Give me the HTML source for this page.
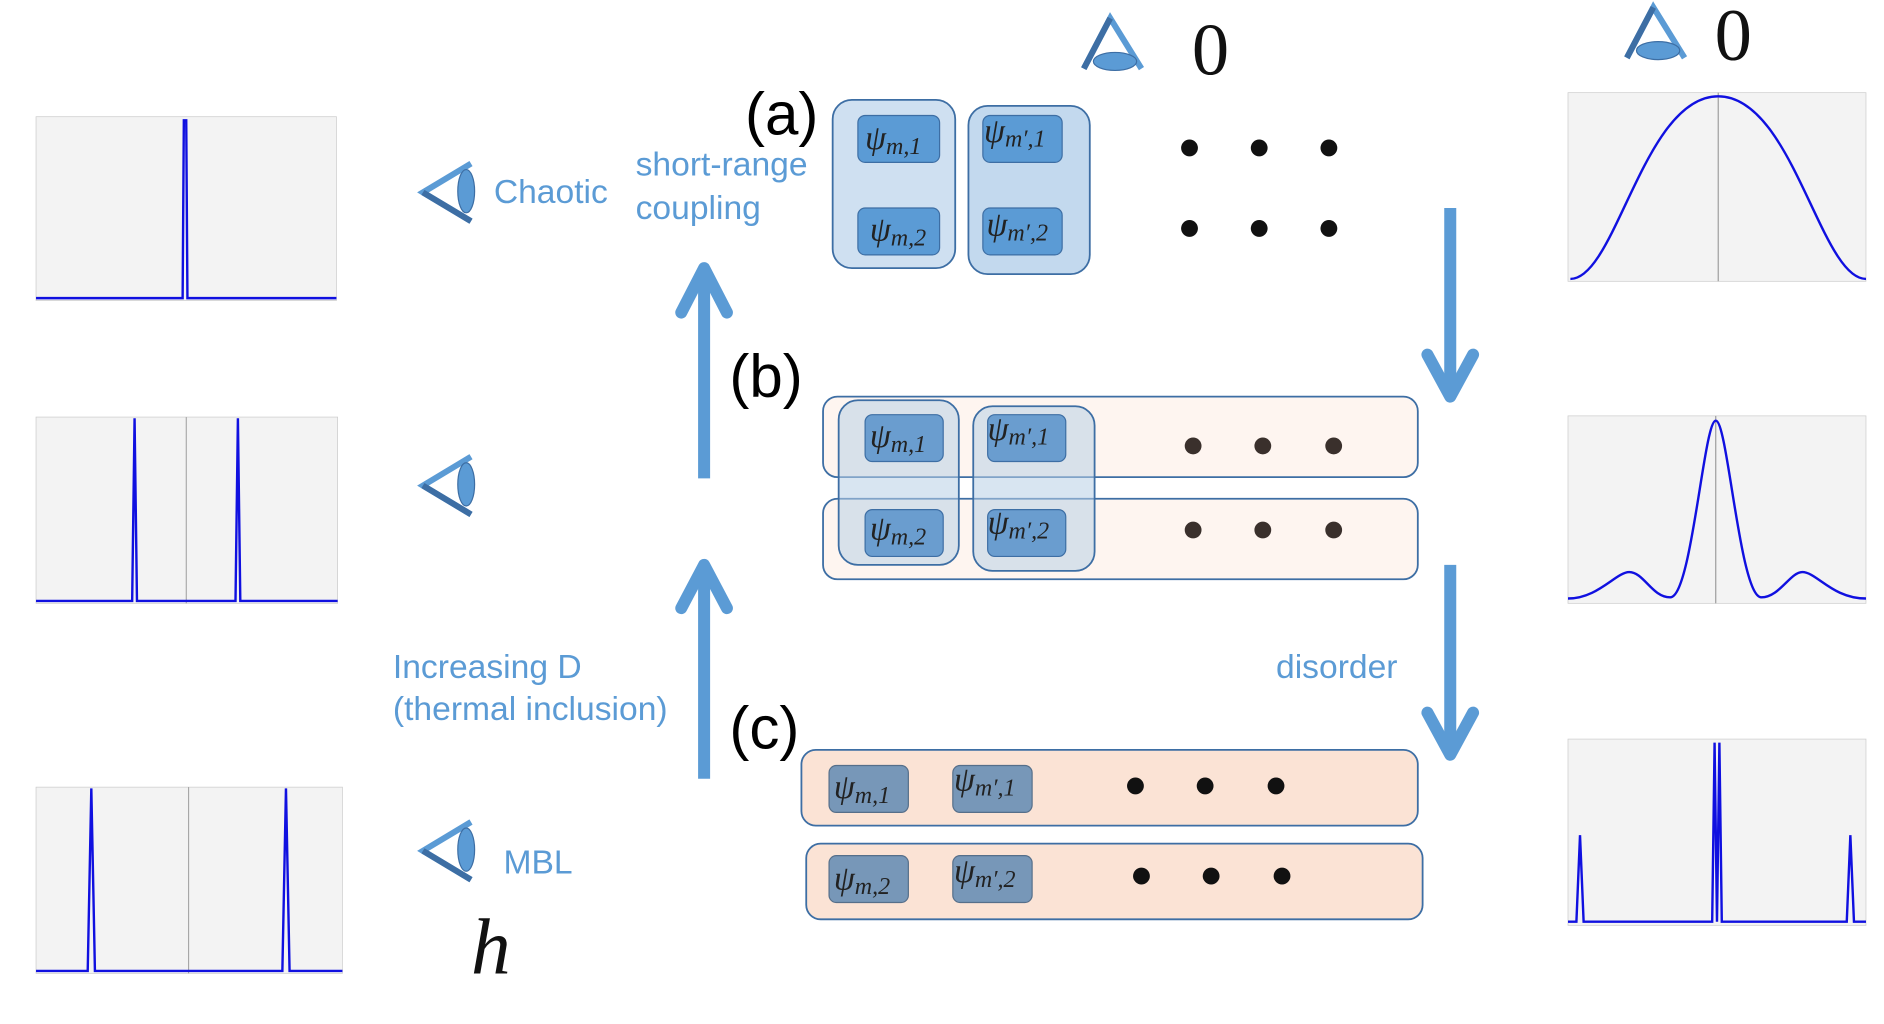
<!DOCTYPE html>
<html><head><meta charset="utf-8"><style>
html,body{margin:0;padding:0;background:#fff;width:1884px;height:1024px;overflow:hidden}
svg{display:block}
.lbl{font-family:"Liberation Sans",sans-serif;fill:#5b9bd5;font-size:28px}
.pl{font-family:"Liberation Sans",sans-serif;fill:#000;font-size:50px}
.psi{font-family:"Liberation Serif",serif;font-style:italic;fill:#222;font-size:28px}
.sub{font-size:20px}
</style></head><body>
<svg width="1884" height="1024" viewBox="0 0 1568 852" xmlns="http://www.w3.org/2000/svg">
<defs>
<g id="eye">
<path d="M42,-24 L2,0 L42,24" fill="none" stroke="#5b9bd5" stroke-width="5"/>
<path d="M2,0 L42,24" stroke="#3d6ea4" stroke-width="5"/>
<ellipse cx="38" cy="-1" rx="7" ry="18" fill="#5b9bd5" stroke="#3d6ea4" stroke-width="1"/>
</g>
<g id="eyeup">
<path d="M-24,42 L-2,0 L24,42" fill="none" stroke="#5b9bd5" stroke-width="5"/>
<path d="M-24,42 L-2,0" stroke="#3d6ea4" stroke-width="5"/>
<ellipse cx="2" cy="36" rx="18" ry="7.5" fill="#5b9bd5" stroke="#3d6ea4" stroke-width="1"/>
</g>
</defs>

<!-- left plots -->
<rect x="30" y="97" width="250" height="153" fill="#f3f3f3" stroke="#ccc" stroke-width="0.6"/>
<path d="M30,248 L152,248 L153,100 L155,100 L156,248 L280,248" fill="none" stroke="#1010e0" stroke-width="2"/>
<rect x="30" y="347" width="251" height="155" fill="#f3f3f3" stroke="#ccc" stroke-width="0.6"/>
<line x1="155" y1="347" x2="155" y2="502" stroke="#999" stroke-width="0.8"/>
<path d="M30,500 L110,500 L112,348 L114,500 L196,500 L198,348 L200,500 L281,500" fill="none" stroke="#1010e0" stroke-width="2"/>
<rect x="30" y="655" width="255" height="155" fill="#f3f3f3" stroke="#ccc" stroke-width="0.6"/>
<line x1="157" y1="655" x2="157" y2="810" stroke="#999" stroke-width="0.8"/>
<path d="M30,808 L73,808 L76,656 L79,808 L235,808 L238,656 L241,808 L285,808" fill="none" stroke="#1010e0" stroke-width="2"/>

<!-- right plots -->
<rect x="1305" y="77" width="248" height="157" fill="#f3f3f3" stroke="#ccc" stroke-width="0.6"/>
<line x1="1430" y1="77" x2="1430" y2="234" stroke="#888" stroke-width="0.8"/>
<path d="M1307,232 C1345,232 1368,80 1430,80 C1492,80 1515,232 1553,232" fill="none" stroke="#1010e0" stroke-width="2"/>
<rect x="1305" y="346" width="248" height="156" fill="#f3f3f3" stroke="#ccc" stroke-width="0.6"/>
<line x1="1428" y1="346" x2="1428" y2="502" stroke="#888" stroke-width="0.8"/>
<path d="M1305,498 C1330,498 1345,476 1356,476 C1368,476 1375,497 1390,497 C1408,497 1418,350 1428,350 C1438,350 1448,497 1466,497 C1481,497 1490,476 1500,476 C1512,476 1525,498 1553,498" fill="none" stroke="#1010e0" stroke-width="2"/>
<rect x="1305" y="615" width="248" height="155" fill="#f3f3f3" stroke="#ccc" stroke-width="0.6"/>
<path d="M1305,767 L1312,767 L1315,695 L1318,767 L1425,767 L1427,618 L1429,767 L1431,618 L1433,767 L1537,767 L1540,695 L1543,767 L1553,767" fill="none" stroke="#1010e0" stroke-width="2"/>

<!-- eyes -->
<use href="#eye" x="350" y="160"/>
<use href="#eye" x="350" y="404"/>
<use href="#eye" x="350" y="708"/>
<use href="#eyeup" x="926" y="15"/>
<use href="#eyeup" x="1378" y="6"/>
<text x="992" y="62" font-family="Liberation Serif,serif" font-size="62" fill="#111">0</text>
<text x="1427" y="50" font-family="Liberation Serif,serif" font-size="62" fill="#111">0</text>

<!-- labels -->
<text class="lbl" x="411" y="169">Chaotic</text>
<text class="lbl" x="529" y="146">short-range</text>
<text class="lbl" x="529" y="182">coupling</text>
<text class="lbl" x="327" y="564">Increasing D</text>
<text class="lbl" x="327" y="599">(thermal inclusion)</text>
<text class="lbl" x="1062" y="564">disorder</text>
<text class="lbl" x="419" y="727">MBL</text>
<text x="392" y="810" font-family="Liberation Serif,serif" font-style="italic" font-size="66" fill="#111">h</text>
<text class="pl" x="620" y="112">(a)</text>
<text class="pl" x="607" y="330">(b)</text>
<text class="pl" x="607" y="623">(c)</text>

<!-- arrows -->
<g stroke="#5b9bd5" stroke-width="10" fill="none" stroke-linecap="round" stroke-linejoin="round">
<line x1="586" y1="398" x2="586" y2="222" stroke-linecap="butt"/>
<path d="M567,260 L586,223 L605,260"/>
<line x1="586" y1="648" x2="586" y2="470" stroke-linecap="butt"/>
<path d="M567,506 L586,470 L605,506"/>
<line x1="1207" y1="173" x2="1207" y2="330" stroke-linecap="butt"/>
<path d="M1188,295 L1207,330 L1226,295"/>
<line x1="1207" y1="470" x2="1207" y2="628" stroke-linecap="butt"/>
<path d="M1188,593 L1207,628 L1226,593"/>
</g>

<!-- (a) -->
<rect x="693" y="83" width="102" height="140" rx="16" fill="#cfe0f1" stroke="#3d6ea4" stroke-width="1.5"/>
<rect x="806" y="88" width="101" height="140" rx="16" fill="#c3d9ee" stroke="#3d6ea4" stroke-width="1.5"/>
<g fill="#5b9bd5" stroke="#3d6ea4" stroke-width="1">
<rect x="714" y="96" width="68" height="39" rx="6"/>
<rect x="714" y="173" width="68" height="39" rx="6"/>
<rect x="818" y="96" width="66" height="39" rx="6"/>
<rect x="818" y="173" width="66" height="39" rx="6"/>
</g>
<text class="psi" x="720" y="124">ψ<tspan class="sub" dy="4">m,1</tspan></text>
<text class="psi" x="724" y="200">ψ<tspan class="sub" dy="4">m,2</tspan></text>
<text class="psi" x="819" y="118">ψ<tspan class="sub" dy="4">m′,1</tspan></text>
<text class="psi" x="821" y="196">ψ<tspan class="sub" dy="4">m′,2</tspan></text>
<g fill="#111">
<circle cx="990" cy="123" r="7"/><circle cx="1048" cy="123" r="7"/><circle cx="1106" cy="123" r="7"/>
<circle cx="990" cy="190" r="7"/><circle cx="1048" cy="190" r="7"/><circle cx="1106" cy="190" r="7"/>
</g>

<!-- (b) -->
<rect x="685" y="330" width="495" height="67" rx="12" fill="#fef5f0" stroke="#3d6ea4" stroke-width="1.5"/>
<rect x="685" y="415" width="495" height="67" rx="12" fill="#fef5f0" stroke="#3d6ea4" stroke-width="1.5"/>
<rect x="698" y="333" width="100" height="137" rx="16" fill="#b8cfe6" fill-opacity="0.55" stroke="#3d6ea4" stroke-width="1.5"/>
<rect x="810" y="338" width="101" height="137" rx="16" fill="#b8cfe6" fill-opacity="0.55" stroke="#3d6ea4" stroke-width="1.5"/>
<g fill="#6a9dcf" stroke="#3d6ea4" stroke-width="1">
<rect x="720" y="345" width="65" height="39" rx="6"/>
<rect x="720" y="424" width="65" height="39" rx="6"/>
<rect x="822" y="345" width="65" height="39" rx="6"/>
<rect x="822" y="424" width="65" height="39" rx="6"/>
</g>
<text class="psi" x="724" y="372">ψ<tspan class="sub" dy="4">m,1</tspan></text>
<text class="psi" x="724" y="449">ψ<tspan class="sub" dy="4">m,2</tspan></text>
<text class="psi" x="822" y="366">ψ<tspan class="sub" dy="4">m′,1</tspan></text>
<text class="psi" x="822" y="444">ψ<tspan class="sub" dy="4">m′,2</tspan></text>
<g fill="#3a302c">
<circle cx="993" cy="371" r="7"/><circle cx="1051" cy="371" r="7"/><circle cx="1110" cy="371" r="7"/>
<circle cx="993" cy="441" r="7"/><circle cx="1051" cy="441" r="7"/><circle cx="1110" cy="441" r="7"/>
</g>

<!-- (c) -->
<rect x="667" y="624" width="513" height="63" rx="12" fill="#fbe3d5" stroke="#3d6ea4" stroke-width="1.5"/>
<rect x="671" y="702" width="513" height="63" rx="12" fill="#fbe3d5" stroke="#3d6ea4" stroke-width="1.5"/>
<g fill="#7797b8" stroke="#566f8a" stroke-width="1">
<rect x="690" y="637" width="66" height="39" rx="6"/>
<rect x="793" y="637" width="66" height="39" rx="6"/>
<rect x="690" y="712" width="66" height="39" rx="6"/>
<rect x="793" y="712" width="66" height="39" rx="6"/>
</g>
<text class="psi" x="694" y="664">ψ<tspan class="sub" dy="4">m,1</tspan></text>
<text class="psi" x="794" y="658">ψ<tspan class="sub" dy="4">m′,1</tspan></text>
<text class="psi" x="694" y="740">ψ<tspan class="sub" dy="4">m,2</tspan></text>
<text class="psi" x="794" y="734">ψ<tspan class="sub" dy="4">m′,2</tspan></text>
<g fill="#111">
<circle cx="945" cy="654" r="7"/><circle cx="1003" cy="654" r="7"/><circle cx="1062" cy="654" r="7"/>
<circle cx="950" cy="729" r="7"/><circle cx="1008" cy="729" r="7"/><circle cx="1067" cy="729" r="7"/>
</g>
</svg>
</body></html>
